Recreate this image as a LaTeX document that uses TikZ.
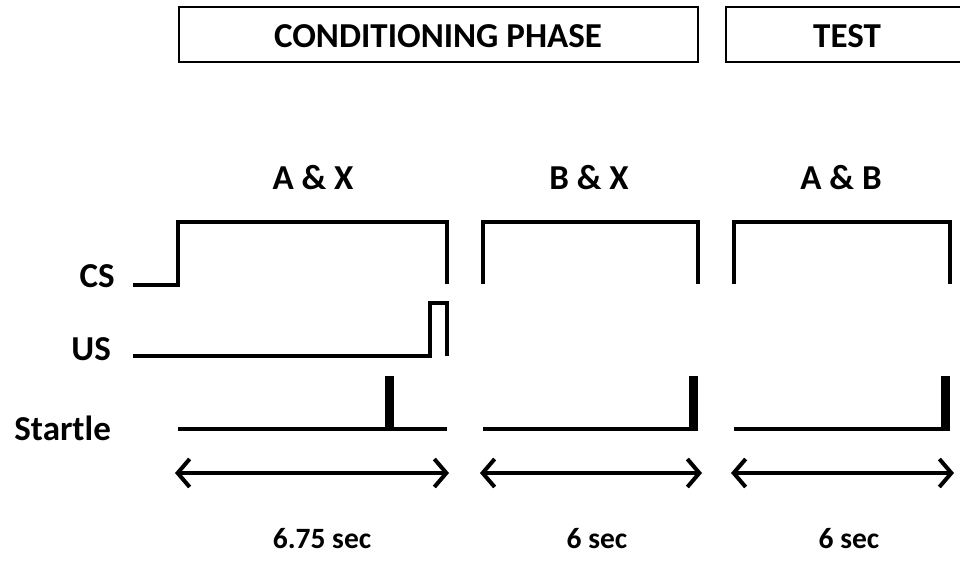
\documentclass[tikz,border=0pt]{standalone}
\usepackage{fontspec}
\setmainfont{Carlito}
\usetikzlibrary{arrows.meta}
\begin{document}
\begin{tikzpicture}[x=1pt,y=-1pt,
  wave/.style={line width=4pt, line cap=butt, line join=miter},
  bar/.style={line width=9pt},
  lbl/.style={font=\bfseries\fontsize{35}{40}\selectfont, inner sep=0pt, anchor=base},
  durlbl/.style={font=\bfseries\fontsize{29.5}{34}\selectfont, inner sep=0pt, anchor=base},
  phasebox/.style={draw, line width=1.8pt, inner sep=0pt, anchor=north west},
  dur/.style={line width=4.5pt, {Straight Barb[length=12pt,width=28pt,line width=4pt]}-{Straight Barb[length=12pt,width=28pt,line width=4pt]}}
]
\useasboundingbox (0,0) rectangle (960,560);
% phase boxes
\node[phasebox, minimum width=519pt, minimum height=55pt] (cond) at (178,6) {};
\node[lbl] (condt) at (438,47) {CONDITIONING PHASE};
\node[phasebox, minimum width=240pt, minimum height=55pt] (test) at (725,6) {};
\node[lbl] (testt) at (847,47) {TEST};
% block labels
\node[lbl] (ax) at (313,189) {A \& X};
\node[lbl] (bx) at (589,189) {B \& X};
\node[lbl] (ab) at (841,189) {A \& B};
% row labels
\node[lbl, anchor=base east] (cs) at (115,287) {CS};
\node[lbl, anchor=base east] (us) at (111,360) {US};
\node[lbl, anchor=base east] (st) at (111,440) {Startle};
% CS waveforms
\draw[wave] (133,285) -- (178,285) -- (178,222) -- (447,222) -- (447,284);
\draw[wave] (483,284) -- (483,222) -- (698,222) -- (698,284);
\draw[wave] (734,284) -- (734,222) -- (950,222) -- (950,284);
% US waveform
\draw[wave] (133,356) -- (430,356) -- (430,303) -- (447,303) -- (447,356);
% Startle
\draw[wave] (178,429) -- (447,429);
\draw[bar] (389,431) -- (389,376);
\draw[wave] (483,429) -- (698,429);
\draw[bar] (693.5,431) -- (693.5,376);
\draw[wave] (734,429) -- (950,429);
\draw[bar] (945.5,431) -- (945.5,376);
% duration arrows
\coordinate (a1l) at (175,473); \coordinate (a1r) at (449,473);
\coordinate (a2l) at (480,473); \coordinate (a2r) at (702,473);
\coordinate (a3l) at (731,473); \coordinate (a3r) at (954,473);
\draw[dur] (a1l) -- (a1r);
\draw[dur] (a2l) -- (a2r);
\draw[dur] (a3l) -- (a3r);
\node[durlbl] (d1) at (322,548) {6.75 sec};
\node[durlbl] (d2) at (597,548) {6 sec};
\node[durlbl] (d3) at (849,548) {6 sec};
\end{tikzpicture}
\end{document}
